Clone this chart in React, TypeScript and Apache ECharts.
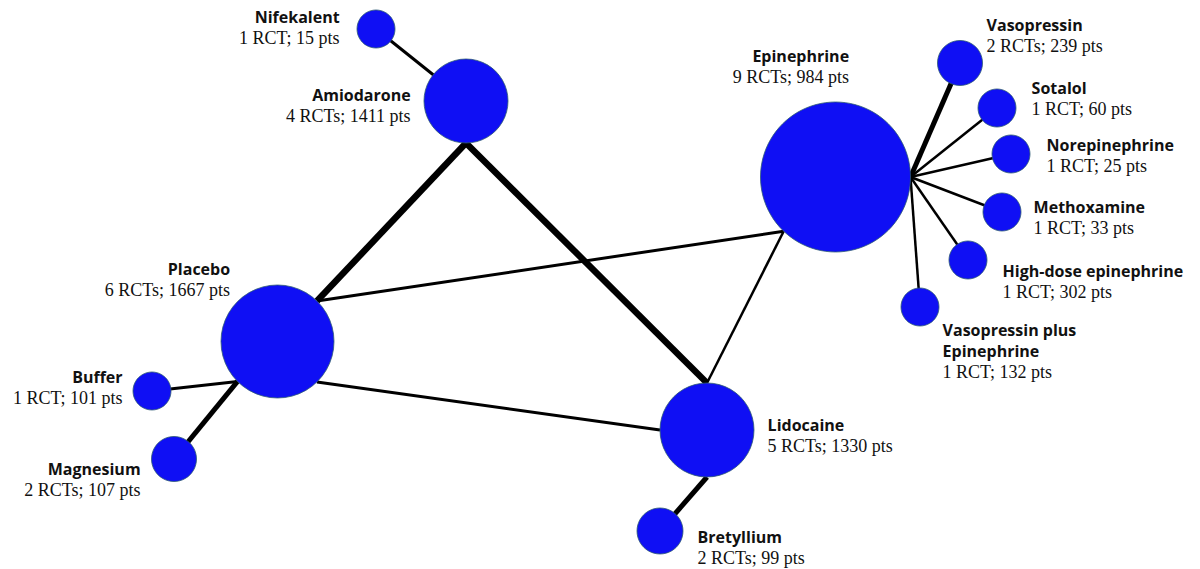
import React, { useEffect, useRef } from "react";
import * as echarts from "echarts";

// Treatments (network nodes)
const nodeNames = [
  "Nifekalent",
  "Amiodarone",
  "Epinephrine",
  "Vasopressin",
  "Sotalol",
  "Norepinephrine",
  "Methoxamine",
  "High-dose epinephrine",
  "Vasopressin plus Epinephrine",
  "Placebo",
  "Buffer",
  "Magnesium",
  "Lidocaine",
  "Bretyllium",
];
const nodeLabelNames = [
  "Nifekalent",
  "Amiodarone",
  "Epinephrine",
  "Vasopressin",
  "Sotalol",
  "Norepinephrine",
  "Methoxamine",
  "High-dose epinephrine",
  "Vasopressin plus\nEpinephrine",
  "Placebo",
  "Buffer",
  "Magnesium",
  "Lidocaine",
  "Bretyllium",
];
const nodeRcts = [1, 4, 9, 2, 1, 1, 1, 1, 1, 6, 1, 2, 5, 2];
const nodePts = [15, 1411, 984, 239, 60, 25, 33, 302, 132, 1667, 101, 107, 1330, 99];
// network layout coordinates (as in the published figure)
const layoutX = [376, 466, 835.5, 960, 997, 1011, 1002, 968, 920, 277.5, 152, 174, 707, 660];
const layoutY = [29, 101, 177, 63, 108, 154, 212, 260, 307, 341.5, 391, 459, 430, 531];
// node diameters
const nodeSize = [38, 84, 150, 45, 38, 38, 38, 38, 38, 113, 38, 45, 94, 46];

// Comparisons (edges): source, target, line width, source port angle, target port angle
const edgeSource = [
  "Nifekalent", "Amiodarone", "Amiodarone", "Placebo", "Placebo", "Epinephrine",
  "Epinephrine", "Epinephrine", "Epinephrine", "Epinephrine", "Epinephrine", "Epinephrine",
  "Placebo", "Placebo", "Lidocaine",
];
const edgeTarget = [
  "Amiodarone", "Placebo", "Lidocaine", "Epinephrine", "Lidocaine", "Lidocaine",
  "Vasopressin", "Sotalol", "Norepinephrine", "Methoxamine", "High-dose epinephrine",
  "Vasopressin plus Epinephrine", "Buffer", "Magnesium", "Bretyllium",
];
const edgeWidth = [3, 6.5, 6.5, 3, 3, 2.5, 5, 2.5, 2.5, 2.5, 2.5, 2.5, 3, 5, 5];
const edgeSourcePort: (number | null)[] = [null, 90, 90, -45.7, 45.7, 133.7, 0, 0, 0, 0, 0, 0, 135, 135, 90];
const edgeTargetPort: (number | null)[] = [null, -45.7, -90, 133.7, 180, -90, null, null, null, null, null, null, null, null, null];

// label placement (style): anchor offset from node centre, alignment
const labelPlacement: Record<string, { dx: number; dy: number; align: string }> = {
  Nifekalent: { dx: -36, dy: -1.5, align: "right" },
  Amiodarone: { dx: -55, dy: 5, align: "right" },
  Epinephrine: { dx: 14, dy: -110, align: "right" },
  Vasopressin: { dx: 27, dy: -27, align: "left" },
  Sotalol: { dx: 35, dy: -9.5, align: "left" },
  Norepinephrine: { dx: 36, dy: 2, align: "left" },
  Methoxamine: { dx: 32, dy: 6, align: "left" },
  "High-dose epinephrine": { dx: 35, dy: 21.5, align: "left" },
  "Vasopressin plus Epinephrine": { dx: 23, dy: 44, align: "left" },
  Placebo: { dx: -47, dy: -62, align: "right" },
  Buffer: { dx: -29, dy: -3, align: "right" },
  Magnesium: { dx: -33, dy: 20.5, align: "right" },
  Lidocaine: { dx: 61, dy: 5.5, align: "left" },
  Bretyllium: { dx: 38, dy: 16.5, align: "left" },
};

function portPoint(name: string, angle: number | null): [number, number] {
  const i = nodeNames.indexOf(name);
  const cx = layoutX[i];
  const cy = layoutY[i];
  if (angle === null) return [cx, cy];
  const r = nodeSize[i] / 2;
  const a = (angle * Math.PI) / 180;
  return [cx + r * Math.cos(a), cy + r * Math.sin(a)];
}

export default function App() {
  const ref = useRef<HTMLDivElement>(null);
  useEffect(() => {
    if (!ref.current) return;
    const chart = echarts.init(ref.current, undefined, { renderer: "svg" });

    const lineData = edgeSource.map((s, k) => ({
      coords: [portPoint(s, edgeSourcePort[k]), portPoint(edgeTarget[k], edgeTargetPort[k])],
      lineStyle: { width: edgeWidth[k] },
    }));

    const nodeData = nodeNames.map((n, i) => {
      const r = nodeSize[i] / 2;
      const p = labelPlacement[n];
      const stats = `${nodeRcts[i]} RCT${nodeRcts[i] > 1 ? "s" : ""}; ${nodePts[i]} pts`;
      const nameLines = nodeLabelNames[i]
        .split("\n")
        .map((t) => `{n|${t}}`)
        .join("\n");
      return {
        name: n,
        value: [layoutX[i], layoutY[i]],
        symbolSize: nodeSize[i],
        label: {
          show: true,
          position: [r + p.dx, r + p.dy],
          align: p.align,
          verticalAlign: "middle",
          formatter: `${nameLines}\n{s|${stats}}`,
        },
      };
    });

    chart.setOption({
      animation: false,
      backgroundColor: "#ffffff",
      grid: { left: 0, right: 0, top: 0, bottom: 0 },
      xAxis: { type: "value", min: 0, max: 1200, show: false },
      yAxis: { type: "value", min: 0, max: 569, inverse: true, show: false },
      series: [
        {
          type: "lines",
          coordinateSystem: "cartesian2d",
          z: 1,
          silent: true,
          lineStyle: { color: "#000000", opacity: 1, curveness: 0, cap: "butt" },
          data: lineData,
        },
        {
          type: "scatter",
          z: 2,
          silent: true,
          symbol: "circle",
          itemStyle: {
            color: "#0f0ff4",
            borderColor: "#2d5a72",
            borderWidth: 0.8,
            opacity: 1,
          },
          label: {
            rich: {
              n: {
                fontFamily: "Open Sans",
                fontWeight: "bold",
                fontSize: 16,
                lineHeight: 21,
                color: "#111111",
              },
              s: {
                fontFamily: "Liberation Serif",
                fontSize: 18,
                lineHeight: 21,
                color: "#111111",
              },
            },
          },
          data: nodeData,
        },
      ],
    });
    return () => chart.dispose();
  }, []);

  return (
    <div
      ref={ref}
      style={{ position: "fixed", left: 0, top: 0, width: 1200, height: 569, background: "#fff" }}
    />
  );
}
